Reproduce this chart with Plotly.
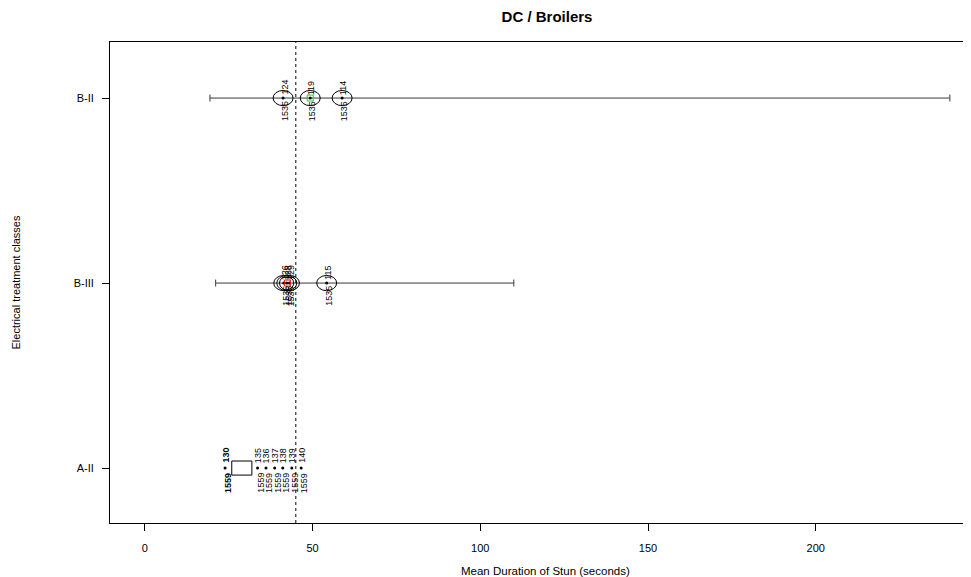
import plotly.graph_objects as go

# ---------------- data ----------------
categories = ["A-II", "B-III", "B-II"]
cat_pos = [1, 2, 3]

# whisker ranges
range_cat = ["B-II", "B-III"]
range_min = [19.4, 21.1]
range_max = [240.0, 110.0]

# ellipse-marked observations
ell_cat = ["B-II", "B-II", "B-II", "B-III", "B-III", "B-III", "B-III"]
ell_x = [41.2, 49.3, 58.8, 41.4, 42.3, 43.1, 54.2]
ell_top = ["124", "119", "114", "126", "128", "129", "115"]
ell_bottom = ["1535", "1535", "1535", "1535", "1535", "1535", "1535"]

# highlighted means
mean_cat = ["B-II", "B-III"]
mean_x = [49.3, 42.5]
mean_color = ["#1fd01f", "#e8141e"]

# A-II box
box_cat = ["A-II"]
box_lo = [25.9]
box_hi = [31.9]

# A-II points
pt_x = [23.9, 33.6, 36.1, 38.7, 41.1, 43.8, 46.6]
pt_top = ["130", "135", "136", "137", "138", "139", "140"]
pt_bottom = ["1559", "1559", "1559", "1559", "1559", "1559", "1559"]
pt_bold = [True, False, False, False, False, False, False]

ref_line = [45]

x_ticks = [0, 50, 100, 150, 200]

# ---------------- figure ----------------
ypos = dict(zip(categories, cat_pos))
FONT = "Liberation Sans, Arial, sans-serif"
fig = go.Figure()
shapes = []
annotations = []

# whiskers
for c, lo, hi in zip(range_cat, range_min, range_max):
    y = ypos[c]
    fig.add_trace(go.Scatter(x=[lo, hi], y=[y, y], mode="lines+markers",
                             line=dict(color="#3a3a3a", width=1),
                             marker=dict(symbol="line-ns-open", size=5,
                                         line=dict(color="#3a3a3a", width=1)),
                             hoverinfo="skip", showlegend=False))

# ellipses
EW = 2.98   # half width in data units
EH = 0.041  # half height in category units
for c, xv, tt, tb in zip(ell_cat, ell_x, ell_top, ell_bottom):
    y = ypos[c]
    shapes.append(dict(type="circle", xref="x", yref="y",
                       x0=xv - EW, x1=xv + EW, y0=y - EH, y1=y + EH,
                       line=dict(color="black", width=1)))
    annotations.append(dict(x=xv, y=y, xref="x", yref="y", text=tt,
                            textangle=-90, showarrow=False, xanchor="center",
                            yanchor="bottom", yshift=1, xshift=1,
                            font=dict(family=FONT, size=9, color="black")))
    annotations.append(dict(x=xv, y=y, xref="x", yref="y", text=tb,
                            textangle=-90, showarrow=False, xanchor="center",
                            yanchor="top", yshift=-1, xshift=2,
                            font=dict(family=FONT, size=9, color="black")))
fig.add_trace(go.Scatter(x=ell_x, y=[ypos[c] for c in ell_cat], mode="markers",
                         marker=dict(color="black", size=3),
                         hoverinfo="skip", showlegend=False))

# means
fig.add_trace(go.Scatter(x=mean_x, y=[ypos[c] for c in mean_cat], mode="markers",
                         marker=dict(symbol="square-open", size=6,
                                     color=mean_color,
                                     line=dict(color=mean_color, width=1)),
                         hoverinfo="skip", showlegend=False))

# A-II box
BH = 0.038
for c, lo, hi in zip(box_cat, box_lo, box_hi):
    y = ypos[c]
    shapes.append(dict(type="rect", xref="x", yref="y", x0=lo, x1=hi,
                       y0=y - BH, y1=y + BH, line=dict(color="black", width=1)))

# A-II points
yA = ypos["A-II"]
fig.add_trace(go.Scatter(x=pt_x, y=[yA] * len(pt_x), mode="markers",
                         marker=dict(color="black", size=3),
                         hoverinfo="skip", showlegend=False))
for xv, tt, tb, b in zip(pt_x, pt_top, pt_bottom, pt_bold):
    t1 = "<b>%s</b>" % tt if b else tt
    t2 = "<b>%s</b>" % tb if b else tb
    annotations.append(dict(x=xv, y=yA, xref="x", yref="y", text=t1,
                            textangle=-90, showarrow=False, xanchor="center",
                            yanchor="bottom", yshift=3,
                            font=dict(family=FONT, size=9, color="black")))
    annotations.append(dict(x=xv, y=yA, xref="x", yref="y", text=t2,
                            textangle=-90, showarrow=False, xanchor="center",
                            yanchor="top", yshift=-3, xshift=3,
                            font=dict(family=FONT, size=9, color="black")))

# reference line
for r in ref_line:
    shapes.append(dict(type="line", xref="x", yref="paper", x0=r, x1=r, y0=0, y1=1,
                       line=dict(color="black", width=1, dash="dot")))

# page offset of the figure div (default body margin)
W, H = 963, 569
ML, MT, MB = 102, 34, 54
PW, PH = W - ML, H - MT - MB

# axis titles
annotations.append(dict(x=(537 - ML) / PW, y=-48 / PH, xref="paper", yref="paper",
                        text="Mean Duration of Stun (seconds)", showarrow=False,
                        xanchor="center", yanchor="middle",
                        font=dict(family=FONT, size=11.5, color="black")))
annotations.append(dict(x=(7 - ML) / PW, y=0.5, xref="paper", yref="paper",
                        xanchor="center", yanchor="middle",
                        text="Electrical treatment classes", showarrow=False,
                        textangle=-90,
                        font=dict(family=FONT, size=11, color="black")))

fig.update_layout(
    width=W, height=H,
    margin=dict(l=ML, r=0, t=MT, b=MB),
    plot_bgcolor="white", paper_bgcolor="white",
    title=dict(text="<b>DC / Broilers</b>", x=539 / W, xref="container",
               xanchor="center", y=1 - 9 / H, yref="container", yanchor="middle",
               font=dict(family=FONT, size=15, color="black")),
    shapes=shapes, annotations=annotations,
    xaxis=dict(range=[-10.4, 246.3], tickvals=x_ticks, ticks="outside", ticklen=7,
               showgrid=False, zeroline=False, showline=True, mirror=True,
               linecolor="black", linewidth=1, tickcolor="black",
               ticklabelstandoff=8,
               tickfont=dict(family=FONT, size=11, color="black")),
    yaxis=dict(range=[0.703, 3.303], tickvals=cat_pos, ticktext=categories,
               ticks="outside", ticklen=7, showgrid=False, zeroline=False,
               showline=True, linecolor="black", linewidth=1, tickcolor="black",
               ticklabelstandoff=6,
               tickfont=dict(family=FONT, size=11, color="black")),
    showlegend=False,
)

fig.write_html("out.html")
